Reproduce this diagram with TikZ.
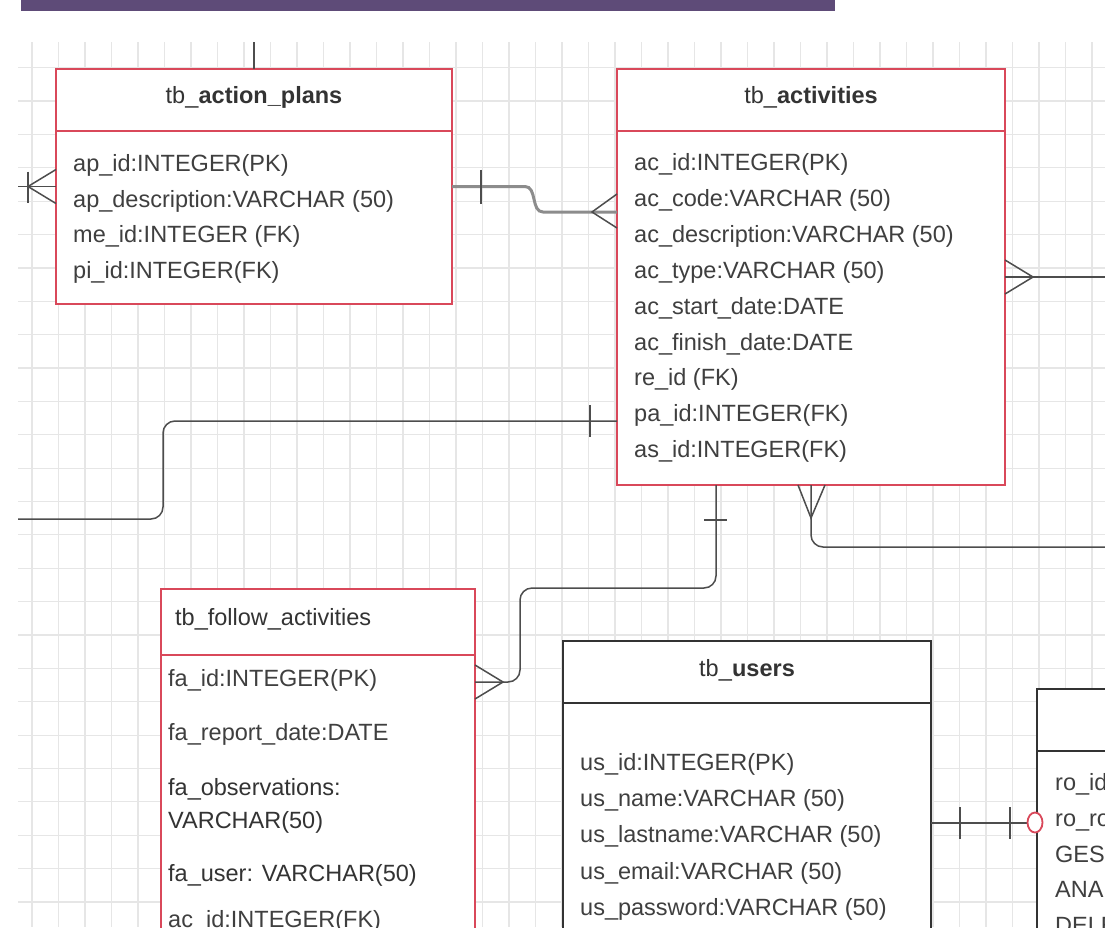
\documentclass[tikz,border=0pt]{standalone}
\usepackage{fontspec}
\setmainfont{Liberation Sans}
\usetikzlibrary{calc}
\definecolor{gridc}{HTML}{E6E6E6}
\definecolor{redb}{HTML}{D9485A}
\definecolor{purp}{HTML}{5E4B78}
\definecolor{conc}{HTML}{4D4D4D}
\definecolor{thickc}{HTML}{8C8C8C}
\definecolor{txt}{HTML}{3F3F3F}
\definecolor{blk}{HTML}{333333}
\begin{document}
\begin{tikzpicture}[x=1pt,y=-1pt,
  tbl/.style={draw=redb, line width=2.5pt, fill=white, inner sep=0pt, outer sep=0pt, anchor=north west},
  hdr/.style={draw=redb, line width=2.5pt},
  conn/.style={draw=conc, line width=1.5pt},
  rowtxt/.style={anchor=base west, inner sep=0pt, text=txt, font=\fontsize{23.5}{28}\selectfont},
  ttl/.style={anchor=base, inner sep=0pt, text=blk, font=\fontsize{23.5}{28}\selectfont}]
\useasboundingbox (0,0) rectangle (1105,927);
\clip (0,0) rectangle (1105,927);
\fill[white] (0,0) rectangle (1105,927);
% grid
\foreach \k in {0,...,40} \draw[gridc, line width=1.2pt] ({32+26.5*\k},42) -- ({32+26.5*\k},927);
\foreach \k in {0,...,25} \draw[gridc, line width=1.2pt] (18,{67.7+33.37*\k}) -- (1105,{67.7+33.37*\k});
% top bar
\fill[purp] (21,0) rectangle (835,11);
% tables
\node[tbl, minimum width=396pt, minimum height=235pt] (ap) at (56,69) {};
\node[tbl, minimum width=388pt, minimum height=416pt] (ac) at (617,69) {};
\node[tbl, minimum width=314pt, minimum height=380pt] (fa) at (161,589) {};
\node[tbl, draw=blk, minimum width=368pt, minimum height=330pt] (us) at (563,641) {};
\node[tbl, draw=blk, minimum width=200pt, minimum height=300pt] (ro) at (1037,689) {};
\draw[hdr] ($(ap.north west)+(0,62)$) -- ($(ap.north east)+(0,62)$);
\draw[hdr] ($(ac.north west)+(0,62)$) -- ($(ac.north east)+(0,62)$);
\draw[hdr] ($(fa.north west)+(0,66)$) -- ($(fa.north east)+(0,66)$);
\draw[hdr, draw=blk] ($(us.north west)+(0,62)$) -- ($(us.north east)+(0,62)$);
\draw[hdr, draw=blk] ($(ro.north west)+(0,62)$) -- ($(ro.north east)+(0,62)$);
% connectors
\coordinate (topE) at (254,42);
\draw[conn] (ap.north) -- (topE);
\coordinate (leftE) at (18,186.5);
\draw[conn] (ap.west) -- (leftE);
\draw[conn] ($(ap.west)+(-28,-15)$) -- ($(ap.west)+(-28,16)$);
\draw[conn] ($(ap.west)+(0,-17)$) -- ($(ap.west)+(-28,0)$) -- ($(ap.west)+(0,17)$);
% action plans -> activities
\coordinate (j1) at ($(ac.west)+(-74,-65)$);
\draw[draw=thickc, line width=3pt] (ap.east) -- ++(73,0) to[out=0,in=180] (j1) -- ($(ac.west)+(0,-65)$);
\draw[conn] ($(ap.east)+(29,-17)$) -- ($(ap.east)+(29,17)$);
\draw[conn] ($(ac.west)+(0,-83)$) -- ($(ac.west)+(-25,-65)$) -- ($(ac.west)+(0,-49)$);
% activities right
\coordinate (rightE) at (1105,277);
\draw[conn] (ac.east) -- (rightE);
\draw[conn] ($(ac.east)+(0,-17)$) -- ($(ac.east)+(28,0)$) -- ($(ac.east)+(0,17)$);
% activities left lower
\coordinate (lowL) at (18,519);
\draw[conn, rounded corners=12pt] ($(ac.west)+(0,144)$) -| (163,519) -- (lowL);
\draw[conn] ($(ac.west)+(-27,128)$) -- ($(ac.west)+(-27,160)$);
% activities bottom -> follow activities
\draw[conn, rounded corners=12pt] ($(ac.south)+(-95,0)$) -- ($(ac.south)+(-95,103)$) -| (520,682) -- ($(fa.north east)+(0,93)$);
\draw[conn] ($(ac.south)+(-107,35)$) -- ($(ac.south)+(-84,35)$);
\draw[conn] ($(fa.north east)+(0,76)$) -- ($(fa.north east)+(28,93)$) -- ($(fa.north east)+(0,110)$);
% activities bottom -> right
\coordinate (rightL) at (1105,547);
\draw[conn, rounded corners=12pt] (ac.south) |- (rightL);
\draw[conn] ($(ac.south)+(-13,0)$) -- ($(ac.south)+(0,33)$) -- ($(ac.south)+(14,0)$);
% users -> roles
\draw[conn] ($(us.north east)+(0,182)$) -- ($(ro.north west)+(-10,134)$);
\draw[conn] ($(us.north east)+(29,166)$) -- ($(us.north east)+(29,198)$);
\draw[conn] ($(us.north east)+(79,166)$) -- ($(us.north east)+(79,198)$);
\draw[draw=redb, fill=white, line width=1.8pt] ($(ro.north west)+(-2,133.5)$) ellipse [x radius=7.5pt, y radius=10pt];
% titles
\node[ttl] (apT) at ($(ap.north)+(0,34)$) {tb\_\textbf{action\_plans}};
\node[ttl] (acT) at ($(ac.north)+(0,34)$) {tb\_\textbf{activities}};
\node[ttl, anchor=base west] (faT) at (175,625) {tb\_follow\_activities};
\node[ttl] (usT) at ($(us.north)+(0,35)$) {tb\_\textbf{users}};
% rows
\foreach \t [count=\i] in {ap\_id:INTEGER(PK), ap\_description:VARCHAR (50), me\_id:INTEGER (FK), pi\_id:INTEGER(FK)}
  \node[rowtxt] (apr\i) at (73,{171.5+35.7*(\i-1)}) {\t};
\foreach \t [count=\i] in {ac\_id:INTEGER(PK), ac\_code:VARCHAR (50), ac\_description:VARCHAR (50), ac\_type:VARCHAR (50), ac\_start\_date:DATE, ac\_finish\_date:DATE, re\_id (FK), pa\_id:INTEGER(FK), as\_id:INTEGER(FK)}
  \node[rowtxt] (acr\i) at (634,{170.5+35.9*(\i-1)}) {\t};
\node[rowtxt] (far1) at (168,686.5) {fa\_id:INTEGER(PK)};
\node[rowtxt] (far2) at (168,740.5) {fa\_report\_date:DATE};
\node[rowtxt, text=blk] (far3) at (168,795.5) {fa\_observations:};
\node[rowtxt, text=blk] (far4) at (168,828.5) {VARCHAR(50)};
\node[rowtxt, text=blk] (far5) at (168,881.5) {fa\_user: VARCHAR(50)};
\node[rowtxt] (far6) at (168,927) {ac\_id:INTEGER(FK)};
\foreach \t [count=\i] in {us\_id:INTEGER(PK), us\_name:VARCHAR (50), us\_lastname:VARCHAR (50), us\_email:VARCHAR (50), us\_password:VARCHAR (50)}
  \node[rowtxt] (usr\i) at (580,{770.5+36.2*(\i-1)}) {\t};
\foreach \t [count=\i] in {ro\_id:INTEGER(PK), ro\_role:VARCHAR (50), GESTOR, ANALISTA, DELEGADO}
  \node[rowtxt] (ror\i) at (1055,{790.5+35.8*(\i-1)}) {\t};
\end{tikzpicture}
\end{document}
